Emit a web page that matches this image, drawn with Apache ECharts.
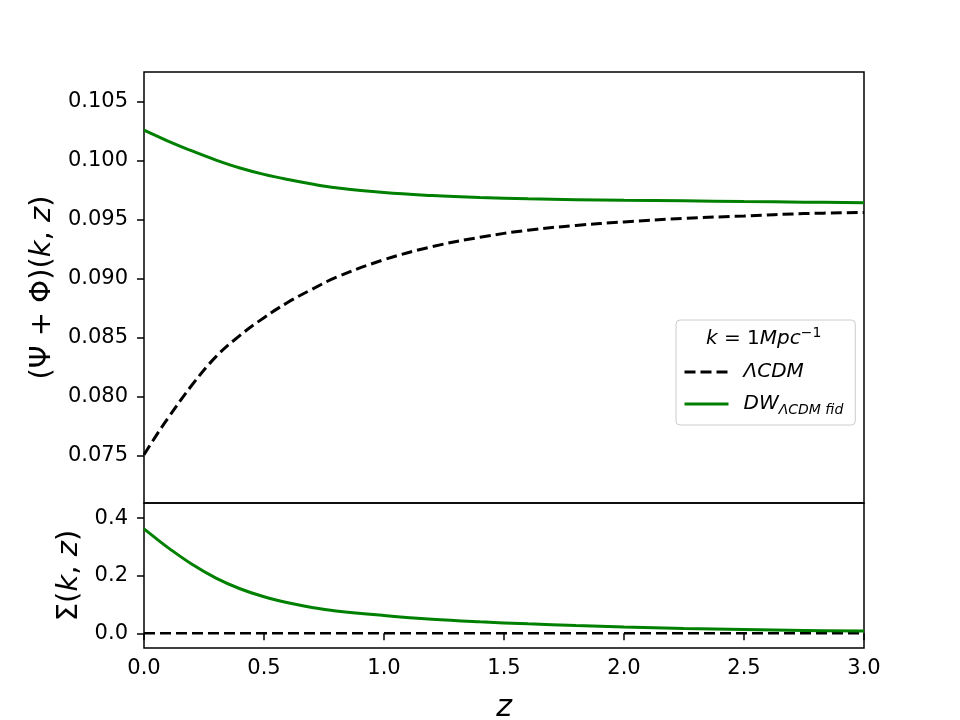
<!DOCTYPE html>
<html>
<head>
<meta charset="utf-8">
<script src="https://cdn.jsdelivr.net/npm/echarts@6/dist/echarts.min.js"></script>
<style>
  html, body { margin: 0; padding: 0; background: #fff; }
  #chart { width: 960px; height: 720px; }
</style>
</head>
<body>
<div id="chart"></div>
<script>
// redshift grid the values were read at
const zValues = [0, 0.05, 0.1, 0.2, 0.3, 0.4, 0.5, 0.6, 0.7, 0.8, 1.0, 1.2, 1.4, 1.6, 1.8, 2.0, 2.25, 2.5, 2.75, 3.0];

// (Psi + Phi)(k, z), top panel
const psiPhiLCDM = [0.0751, 0.0767, 0.0782, 0.0810, 0.0834, 0.0852, 0.0867, 0.0880, 0.0891, 0.0901,
  0.0916, 0.0927, 0.0935, 0.0941, 0.0945, 0.0948, 0.0951, 0.0953, 0.0955, 0.0956];
const psiPhiDW = [0.10257, 0.10210, 0.10164, 0.10080, 0.10003, 0.09936, 0.09882, 0.09838, 0.09800, 0.09769,
  0.09728, 0.09703, 0.09686, 0.09675, 0.09668, 0.09663, 0.09658, 0.09652, 0.09647, 0.09642];

// Sigma(k, z), bottom panel
const sigmaLCDM = [0, 0, 0, 0, 0, 0, 0, 0, 0, 0, 0, 0, 0, 0, 0, 0, 0, 0, 0, 0];
const sigmaDW = [0.363, 0.330, 0.298, 0.240, 0.192, 0.155, 0.127, 0.106, 0.090, 0.078,
  0.062, 0.049, 0.040, 0.033, 0.027, 0.022, 0.017, 0.013, 0.010, 0.008];

const topTicks = [0.075, 0.080, 0.085, 0.090, 0.095, 0.100, 0.105];
const bottomTicks = [0.0, 0.2, 0.4];

const pairs = (ys) => zValues.map((z, i) => [z, ys[i]]);

const FONT = 'DejaVu Sans';
const tick = { show: true, inside: false, length: 7, lineStyle: { color: '#000', width: 1.5 } };

const chart = echarts.init(document.getElementById('chart'));

const option = {
  animation: false,
  backgroundColor: '#fff',
  textStyle: { fontFamily: FONT },
  grid: [
    { left: 144, top: 72, width: 720, height: 431, outerBoundsMode: 'none', show: true, borderColor: '#000', borderWidth: 1.5, backgroundColor: 'transparent' },
    { left: 144, top: 503, width: 720, height: 145, outerBoundsMode: 'none', show: true, borderColor: '#000', borderWidth: 1.5, backgroundColor: 'transparent' }
  ],
  xAxis: [
    {
      gridIndex: 0, type: 'value', min: 0, max: 3,
      axisLine: { show: false }, axisTick: { show: false }, axisLabel: { show: false }, splitLine: { show: false }
    },
    {
      gridIndex: 1, type: 'value', min: 0, max: 3, interval: 0.5,
      axisLine: { show: false }, axisTick: tick, splitLine: { show: false },
      axisLabel: { color: '#000', fontSize: 21, fontFamily: FONT, margin: 10, formatter: v => v.toFixed(1) },
      name: 'z', nameLocation: 'middle', nameGap: 45,
      nameTextStyle: { color: '#000', fontSize: 30, fontStyle: 'italic', fontFamily: FONT }
    }
  ],
  yAxis: [
    {
      gridIndex: 0, type: 'value', min: 0.07102, max: 0.10748,
      axisLine: { show: false }, splitLine: { show: false },
      axisTick: Object.assign({ customValues: topTicks }, tick),
      axisLabel: { customValues: topTicks, color: '#000', fontSize: 21, fontFamily: FONT, margin: 16, formatter: v => v.toFixed(3) },
      name: '(Ψ + Φ)({i|k}, {i|z})', nameLocation: 'middle', nameGap: 86,
      nameTextStyle: {
        color: '#000', fontSize: 29, fontFamily: FONT,
        rich: { i: { fontSize: 29, fontStyle: 'italic', fontFamily: FONT, color: '#000' } }
      }
    },
    {
      gridIndex: 1, type: 'value', min: -0.051, max: 0.453,
      axisLine: { show: false }, splitLine: { show: false },
      axisTick: Object.assign({ customValues: bottomTicks }, tick),
      axisLabel: { customValues: bottomTicks, color: '#000', fontSize: 21, fontFamily: FONT, margin: 16, formatter: v => v.toFixed(1) },
      name: 'Σ({i|k}, {i|z})', nameLocation: 'middle', nameGap: 60,
      nameTextStyle: {
        color: '#000', fontSize: 29, fontFamily: FONT,
        rich: { i: { fontSize: 29, fontStyle: 'italic', fontFamily: FONT, color: '#000' } }
      }
    }
  ],
  legend: {
    orient: 'vertical', left: 676, top: 320,
    data: ['LCDM', 'DW'],
    itemWidth: 44, itemHeight: 20, itemGap: 12,
    padding: [42, 12, 8, 7],
    borderColor: '#cccccc', borderWidth: 1, borderRadius: 4,
    backgroundColor: 'rgba(255,255,255,0.8)',
    itemStyle: { opacity: 0 },
    lineStyle: { width: 3 },
    formatter: name => name === 'LCDM' ? '{n|ΛCDM}' : '{n|DW}{s|ΛCDM fid}',
    textStyle: {
      padding: [0, 0, 0, 10],
      rich: {
        n: { fontSize: 20, fontStyle: 'italic', fontFamily: FONT, color: '#000' },
        s: { fontSize: 14, fontStyle: 'italic', fontFamily: FONT, color: '#000', padding: [12, 0, 0, 0] }
      }
    }
  },
  graphic: [
    {
      type: 'text', left: 706, top: 326, z: 100,
      style: {
        text: '{i|k} = 1{i|Mpc}{u|−1}',
        rich: {
          i: { fontSize: 20, fontStyle: 'italic', fontFamily: FONT, fill: '#000' },
          u: { fontSize: 14, fontFamily: FONT, fill: '#000', padding: [0, 0, 12, 0] }
        },
        fontSize: 20, fontFamily: FONT, fill: '#000'
      }
    }
  ],
  series: [
    {
      name: 'LCDM', type: 'line', xAxisIndex: 0, yAxisIndex: 0, data: pairs(psiPhiLCDM),
      showSymbol: false, smooth: 0.4,
      lineStyle: { color: '#000', width: 3, type: [11, 5] }, itemStyle: { color: '#000' }
    },
    {
      name: 'DW', type: 'line', xAxisIndex: 0, yAxisIndex: 0, data: pairs(psiPhiDW),
      showSymbol: false, smooth: 0.4,
      lineStyle: { color: '#008000', width: 3 }, itemStyle: { color: '#008000' }
    },
    {
      name: 'LCDM', type: 'line', xAxisIndex: 1, yAxisIndex: 1, data: pairs(sigmaLCDM),
      showSymbol: false,
      lineStyle: { color: '#000', width: 2.5, type: [11, 5] }, itemStyle: { color: '#000' }
    },
    {
      name: 'DW', type: 'line', xAxisIndex: 1, yAxisIndex: 1, data: pairs(sigmaDW),
      showSymbol: false, smooth: 0.4,
      lineStyle: { color: '#008000', width: 3 }, itemStyle: { color: '#008000' }
    }
  ]
};

chart.setOption(option);
</script>
</body>
</html>
